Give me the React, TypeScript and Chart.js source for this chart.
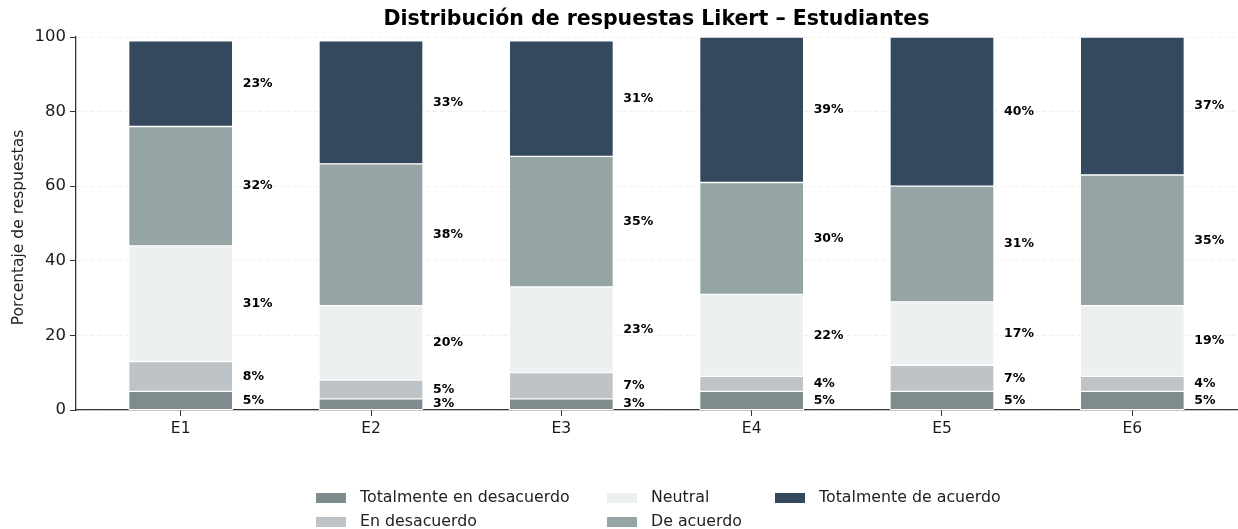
import React, { useEffect, useRef } from "react";
import { Chart, registerables } from "chart.js";

Chart.register(...registerables);

const categories = ["E1", "E2", "E3", "E4", "E5", "E6"];
const seriesNames = [
  "Totalmente en desacuerdo",
  "En desacuerdo",
  "Neutral",
  "De acuerdo",
  "Totalmente de acuerdo",
];
const totDesacuerdo = [5, 3, 3, 5, 5, 5];
const desacuerdo = [8, 5, 7, 4, 7, 4];
const neutral = [31, 20, 23, 22, 17, 19];
const deAcuerdo = [32, 38, 35, 30, 31, 35];
const totAcuerdo = [23, 33, 31, 39, 40, 37];
const seriesValues = [totDesacuerdo, desacuerdo, neutral, deAcuerdo, totAcuerdo];
const seriesColors = ["#7f8c8d", "#bdc3c7", "#ecf0f1", "#95a5a6", "#34495e"];
const yTicks = [0, 20, 40, 60, 80, 100];

const FONT = "'DejaVu Sans', sans-serif";

const overlayPlugin = {
  id: "overlay",
  afterDatasetsDraw(chart: any) {
    const ctx = chart.ctx;
    ctx.save();
    // value labels
    ctx.font = `bold 12.5px ${FONT}`;
    ctx.fillStyle = "#000";
    ctx.textAlign = "left";
    ctx.textBaseline = "middle";
    chart.data.datasets.forEach((ds: any, di: number) => {
      const meta = chart.getDatasetMeta(di);
      meta.data.forEach((el: any, i: number) => {
        const v = ds.data[i].y;
        const p = el.getProps(["x", "y", "base", "width"], true);
        ctx.fillText(`${v}%`, p.x + p.width / 2 + 10, (p.y + p.base) / 2);
      });
    });
    // title
    const ca = chart.chartArea;
    ctx.font = `bold 20.5px ${FONT}`;
    ctx.textAlign = "center";
    ctx.fillText("Distribución de respuestas Likert – Estudiantes", (ca.left + ca.right) / 2, 20);
    // y title
    ctx.save();
    ctx.translate(19, (ca.top + ca.bottom) / 2 + 4);
    ctx.rotate(-Math.PI / 2);
    ctx.font = `15.5px ${FONT}`;
    ctx.fillStyle = "#222";
    ctx.fillText("Porcentaje de respuestas", 0, 0);
    ctx.restore();
    // legend (column-major, 2 rows)
    const colX = [316, 607, 775];
    const rowY = [498, 522];
    ctx.font = `15.8px ${FONT}`;
    ctx.textAlign = "left";
    chart.data.datasets.forEach((ds: any, di: number) => {
      const col = Math.floor(di / 2);
      const row = di % 2;
      const x = colX[col];
      const y = rowY[row];
      ctx.fillStyle = ds.backgroundColor;
      ctx.fillRect(x, y - 5, 30, 10);
      ctx.fillStyle = "#222";
      ctx.fillText(ds.label, x + 44, y);
    });
    ctx.restore();
  },
};

export default function App() {
  const ref = useRef<HTMLCanvasElement | null>(null);
  useEffect(() => {
    document.body.style.margin = "0";
    const canvas = ref.current!;
    const chart = new Chart(canvas, {
      type: "bar",
      data: {
        datasets: seriesNames.map((name, si) => ({
          label: name,
          data: categories.map((_, i) => ({ x: i, y: seriesValues[si][i] })),
          backgroundColor: seriesColors[si],
          borderColor: "#ffffff",
          borderWidth: 1,
          borderSkipped: false,
          barThickness: 104,
        })),
      },
      options: {
        animation: false,
        responsive: false,
        maintainAspectRatio: false,
        layout: { padding: { left: 0, right: 1, top: 37, bottom: 0 } },
        plugins: {
          legend: { display: false },
          tooltip: { enabled: false },
          title: { display: false },
        },
        scales: {
          x: {
            type: "linear",
            stacked: true,
            offset: false,
            min: -0.55,
            max: 5.55,
            afterBuildTicks: (scale: any) => {
              scale.ticks = categories.map((_, i) => ({ value: i }));
            },
            afterFit: (scale: any) => {
              scale.height = 529 - 410 - 0;
            },
            ticks: {
              autoSkip: false,
              maxRotation: 0,
              padding: 4,
              font: { family: FONT, size: 15.5 },
              color: "#1a1a1a",
              callback: (v: any) => categories[Math.round(Number(v))] ?? "",
            },
            grid: {
              offset: false,
              drawOnChartArea: false,
              drawTicks: true,
              tickLength: 6,
              tickColor: "#333",
              tickWidth: 1,
            },
            border: { display: true, color: "#333", width: 1.3 },
          },
          y: {
            stacked: true,
            min: 0,
            max: 100,
            afterBuildTicks: (scale: any) => {
              scale.ticks = yTicks.map((v) => ({ value: v }));
            },
            afterFit: (scale: any) => {
              scale.width = 76;
            },
            ticks: {
              padding: 4,
              font: { family: FONT, size: 16.5 },
              color: "#1a1a1a",
            },
            grid: {
              drawOnChartArea: true,
              color: "rgba(0,0,0,0.08)",
              lineWidth: 0.8,
              tickLength: 6,
              tickColor: "#333",
              tickWidth: 1,
              tickBorderDash: [],
            },
            border: { display: true, color: "#333", width: 1.3, dash: [4, 3] },
          },
        },
      },
      plugins: [overlayPlugin],
    } as any);
    return () => chart.destroy();
  }, []);
  return <canvas ref={ref} width={1238} height={529} style={{ display: "block" }} />;
}
